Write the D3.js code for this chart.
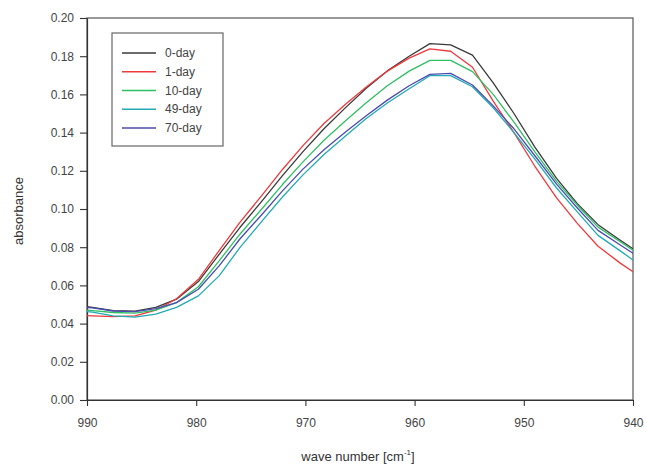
<!DOCTYPE html>
<html>
<head>
<meta charset="utf-8">
<script src="https://cdn.jsdelivr.net/npm/d3@7"></script>
<style>
  html, body { margin: 0; padding: 0; background: #fff; }
  text { font-family: "Liberation Sans", Arial, sans-serif; }
</style>
</head>
<body>
<svg id="chart" width="646" height="465"></svg>
<script>
// ---- data ----
const waveNumbers = [991.4, 989.5, 987.6, 985.6, 983.7, 981.8, 979.8, 977.9, 976.0, 974.0, 972.1, 970.2, 968.3, 966.3,
                     964.4, 962.5, 960.5, 958.6, 956.7, 954.7, 952.8, 950.9, 949.0, 947.0, 945.1, 943.2, 941.2, 939.3];
const seriesNames = ["0-day", "1-day", "10-day", "49-day", "70-day"];
const day0  = [0.0497, 0.0485, 0.0468, 0.0465, 0.0485, 0.0528, 0.0620, 0.0762, 0.0903, 0.1040, 0.1175, 0.1302, 0.1420, 0.1532,
               0.1633, 0.1723, 0.1800, 0.1866, 0.1859, 0.1806, 0.1660, 0.1500, 0.1325, 0.1160, 0.1028, 0.0918, 0.0838, 0.0765];
const day1  = [0.0445, 0.0440, 0.0436, 0.0440, 0.0470, 0.0530, 0.0632, 0.0782, 0.0930, 0.1070, 0.1207, 0.1333, 0.1448, 0.1550,
               0.1640, 0.1722, 0.1790, 0.1838, 0.1826, 0.1742, 0.1565, 0.1400, 0.1225, 0.1058, 0.0925, 0.0805, 0.0718, 0.0645];
const day10 = [0.0475, 0.0468, 0.0458, 0.0455, 0.0470, 0.0510, 0.0593, 0.0728, 0.0868, 0.1000, 0.1128, 0.1248, 0.1360, 0.1463,
               0.1558, 0.1645, 0.1722, 0.1778, 0.1778, 0.1719, 0.1600, 0.1455, 0.1300, 0.1145, 0.1020, 0.0905, 0.0830, 0.0758];
const day49 = [0.0470, 0.0460, 0.0440, 0.0434, 0.0450, 0.0485, 0.0545, 0.0650, 0.0798, 0.0935, 0.1063, 0.1180, 0.1285, 0.1383,
               0.1475, 0.1555, 0.1630, 0.1698, 0.1698, 0.1640, 0.1530, 0.1400, 0.1262, 0.1110, 0.0985, 0.0862, 0.0782, 0.0705];
const day70 = [0.0490, 0.0482, 0.0466, 0.0463, 0.0478, 0.0510, 0.0580, 0.0702, 0.0843, 0.0970, 0.1095, 0.1210, 0.1310, 0.1405,
               0.1490, 0.1570, 0.1645, 0.1705, 0.1710, 0.1649, 0.1540, 0.1420, 0.1280, 0.1130, 0.1005, 0.0888, 0.0813, 0.0742];
const xTickValues = [990, 980, 970, 960, 950, 940];
const yTickValues = [0.00, 0.02, 0.04, 0.06, 0.08, 0.10, 0.12, 0.14, 0.16, 0.18, 0.20];

// ---- presentation ----
const colors = ["#3a3a3a", "#f0393c", "#2fbf63", "#22aab5", "#4b4bb0"];
const seriesValues = [day0, day1, day10, day49, day70];

const svg = d3.select("#chart");
const m = { left: 87, right: 633, top: 18, bottom: 400 };

const x = d3.scaleLinear().domain([990, 940]).range([m.left, m.right]);
const y = d3.scaleLinear().domain([0, 0.2]).range([m.bottom, m.top]);

svg.append("clipPath").attr("id", "clip")
  .append("rect").attr("x", m.left).attr("y", m.top)
  .attr("width", m.right - m.left).attr("height", m.bottom - m.top);

// frame
svg.append("rect")
  .attr("x", m.left).attr("y", m.top)
  .attr("width", m.right - m.left).attr("height", m.bottom - m.top)
  .attr("fill", "none").attr("stroke", "#555").attr("stroke-width", 1.2);

// axes
const xAxis = d3.axisBottom(x).tickValues(xTickValues).tickFormat(d3.format("d"))
  .tickSize(6).tickPadding(12).tickSizeOuter(0);
const yAxis = d3.axisLeft(y).tickValues(yTickValues).tickFormat(d3.format(".2f"))
  .tickSize(7).tickPadding(6).tickSizeOuter(0);

const gx = svg.append("g").attr("transform", `translate(0,${m.bottom})`).call(xAxis);
const gy = svg.append("g").attr("transform", `translate(${m.left},0)`).call(yAxis);
[gx, gy].forEach(g => {
  g.select(".domain").attr("stroke", "#333").attr("stroke-width", 1.2);
  g.selectAll(".tick line").attr("stroke", "#333").attr("stroke-width", 1.1);
  g.selectAll(".tick text").attr("fill", "#444").style("font-size", "12px")
    .style("font-family", "'Liberation Sans', Arial, sans-serif");
});

// lines
const line = d3.line()
  .x((d, i) => x(waveNumbers[i]))
  .y(d => y(d))
  .curve(d3.curveLinear);

const plot = svg.append("g").attr("clip-path", "url(#clip)");
seriesValues.forEach((vals, k) => {
  plot.append("path")
    .datum(vals)
    .attr("d", line)
    .attr("fill", "none")
    .attr("stroke", colors[k])
    .attr("stroke-width", 1.3)
    .attr("stroke-linejoin", "round");
});

// axis titles
const xt = svg.append("text")
  .attr("x", 358).attr("y", 461)
  .attr("text-anchor", "middle")
  .attr("fill", "#333")
  .style("font-size", "13px");
xt.append("tspan").text("wave number [cm");
xt.append("tspan").attr("dy", -6).style("font-size", "8px").text("-1");
xt.append("tspan").attr("dy", 6).text("]");

svg.append("text")
  .attr("transform", "translate(23,211) rotate(-90)")
  .attr("text-anchor", "middle")
  .attr("fill", "#333")
  .style("font-size", "13px")
  .text("absorbance");

// legend
const lg = svg.append("g");
lg.append("rect")
  .attr("x", 112).attr("y", 33).attr("width", 111).attr("height", 113)
  .attr("fill", "#fff").attr("stroke", "#666").attr("stroke-width", 1.2);
const legendY = d3.scalePoint().domain(seriesNames).range([53, 128]);
seriesNames.forEach((name, k) => {
  const yy = legendY(name);
  lg.append("line")
    .attr("x1", 122).attr("x2", 156).attr("y1", yy).attr("y2", yy)
    .attr("stroke", colors[k]).attr("stroke-width", 1.3);
  lg.append("text")
    .attr("x", 165).attr("y", yy).attr("dy", "0.35em")
    .attr("fill", "#444")
    .style("font-size", "12px")
    .text(name);
});
</script>
</body>
</html>
